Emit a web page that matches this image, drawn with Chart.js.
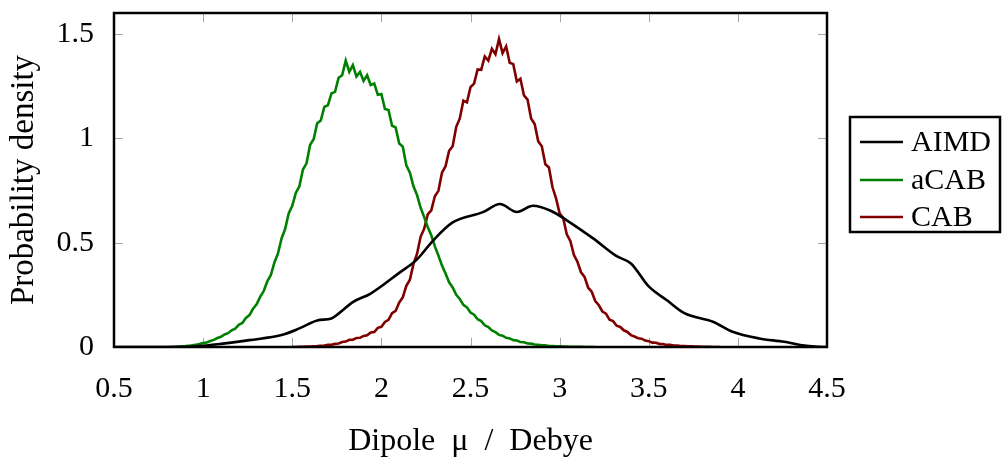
<!DOCTYPE html>
<html lang="en">
  <head>
    <meta charset="utf-8" />
    <title>Dipole distribution | AIMD vs aCAB vs CAB</title>
    <script src="https://cdn.jsdelivr.net/npm/chart.js@4.4.1/dist/chart.umd.min.js"></script>
    <style>
      html,
      body {
        margin: 0;
        padding: 0;
        background: #fff;
      }
    </style>
  </head>
  <body>
    <canvas id="dipoleChart" width="1003" height="461"></canvas>

    <script>
      // axis ticks
      const xTicks = [0.5, 1, 1.5, 2, 2.5, 3, 3.5, 4, 4.5];
      const xTickLabels = ["0.5", "1", "1.5", "2", "2.5", "3", "3.5", "4", "4.5"];
      const yTicks = [0, 0.5, 1, 1.5];
      const yTickLabels = ["0", "0.5", "1", "1.5"];

      const seriesNames = ["AIMD", "aCAB", "CAB"];

      // AIMD: smooth curve, read point by point
      const aimdX = [0.5, 0.85, 1.0, 1.1, 1.26, 1.44, 1.54, 1.64, 1.72, 1.76, 1.84, 1.94, 2.1, 2.2, 2.29, 2.4,
        2.57, 2.665, 2.76, 2.85, 2.95, 3.04, 3.19, 3.32, 3.4, 3.5, 3.6, 3.7, 3.86, 3.97, 4.12, 4.26, 4.35, 4.45, 4.5];
      const aimdY = [0, 0, 0.006, 0.015, 0.033, 0.057, 0.089, 0.127, 0.137, 0.16, 0.215, 0.256, 0.355, 0.42, 0.51, 0.597,
        0.646, 0.685, 0.647, 0.677, 0.653, 0.607, 0.519, 0.435, 0.4, 0.29, 0.225, 0.162, 0.121, 0.073, 0.041, 0.025, 0.01, 0.001, 0];

      // aCAB histogram, bins of 0.02 starting at 0.80
      const acabStart = 0.8;
      const acabStep = 0.02;
      const acabY = [
        0.000, 0.000, 0.001, 0.002, 0.003, 0.004, 0.006, 0.008, 0.011, 0.014,
        0.019, 0.022, 0.029, 0.034, 0.043, 0.049, 0.060, 0.066, 0.080, 0.088,
        0.106, 0.115, 0.139, 0.153, 0.183, 0.205, 0.240, 0.268, 0.315, 0.345,
        0.405, 0.448, 0.520, 0.565, 0.640, 0.676, 0.738, 0.770, 0.850, 0.880,
        0.968, 0.995, 1.072, 1.085, 1.150, 1.158, 1.215, 1.222, 1.290, 1.302,
        1.372, 1.318, 1.350, 1.296, 1.318, 1.275, 1.302, 1.255, 1.262, 1.208,
        1.212, 1.140, 1.135, 1.060, 1.052, 0.975, 0.960, 0.870, 0.835, 0.770,
        0.728, 0.668, 0.622, 0.575, 0.535, 0.482, 0.438, 0.390, 0.352, 0.310,
        0.285, 0.250, 0.230, 0.202, 0.190, 0.165, 0.155, 0.133, 0.124, 0.104,
        0.095, 0.079, 0.071, 0.058, 0.054, 0.044, 0.041, 0.033, 0.031, 0.024,
        0.023, 0.017, 0.016, 0.012, 0.011, 0.008, 0.008, 0.005, 0.005, 0.003,
        0.003, 0.002, 0.002, 0.001, 0.001, 0.001, 0.001, 0.000, 0.000, 0.000,
        0.000
      ];

      // CAB histogram, bins of 0.02 starting at 1.50
      const cabStart = 1.5;
      const cabStep = 0.02;
      const cabY = [
        0.000, 0.000, 0.001, 0.001, 0.002, 0.002, 0.003, 0.004, 0.006, 0.007,
        0.010, 0.011, 0.015, 0.017, 0.024, 0.026, 0.034, 0.035, 0.043, 0.044,
        0.053, 0.056, 0.070, 0.072, 0.092, 0.097, 0.120, 0.130, 0.162, 0.173,
        0.213, 0.238, 0.293, 0.322, 0.398, 0.446, 0.528, 0.566, 0.635, 0.655,
        0.722, 0.748, 0.835, 0.866, 0.940, 0.962, 1.055, 1.095, 1.180, 1.172,
        1.245, 1.262, 1.330, 1.328, 1.392, 1.372, 1.428, 1.402, 1.475, 1.408,
        1.440, 1.362, 1.355, 1.272, 1.285, 1.205, 1.185, 1.095, 1.068, 0.985,
        0.962, 0.875, 0.860, 0.765, 0.712, 0.640, 0.618, 0.540, 0.508, 0.442,
        0.408, 0.358, 0.336, 0.284, 0.265, 0.220, 0.200, 0.170, 0.160, 0.131,
        0.124, 0.102, 0.096, 0.080, 0.072, 0.057, 0.050, 0.042, 0.040, 0.031,
        0.028, 0.021, 0.020, 0.015, 0.014, 0.010, 0.010, 0.007, 0.007, 0.005,
        0.005, 0.003, 0.003, 0.002, 0.002, 0.001, 0.001, 0.001, 0.000, 0.000,
        0.000
      ];

      const seriesColors = ["#000000", "#008000", "#800000"];

      const FONT = "'Liberation Serif', 'Times New Roman', serif";

      function toPoints(xs, ys) {
        return ys.map((y, i) => ({ x: xs[i], y: y }));
      }
      function binPoints(start, step, ys) {
        return ys.map((y, i) => ({ x: +(start + i * step).toFixed(2), y: y }));
      }

      // pgfplots-style box: gray inward ticks on all four sides + black frame
      const framePlugin = {
        id: "frame",
        beforeDatasetsDraw(chart) {
          const { ctx, chartArea: a, scales } = chart;
          const len = 9;
          ctx.save();
          ctx.strokeStyle = "#a6a6a6";
          ctx.lineWidth = 1;
          ctx.beginPath();
          xTicks.forEach((v) => {
            const px = Math.round(scales.x.getPixelForValue(v)) + 0.5;
            ctx.moveTo(px, a.bottom);
            ctx.lineTo(px, a.bottom - len);
            ctx.moveTo(px, a.top);
            ctx.lineTo(px, a.top + len);
          });
          yTicks.forEach((v) => {
            const py = Math.round(scales.y.getPixelForValue(v)) + 0.5;
            ctx.moveTo(a.left, py);
            ctx.lineTo(a.left + len, py);
            ctx.moveTo(a.right, py);
            ctx.lineTo(a.right - len, py);
          });
          ctx.stroke();
          ctx.restore();
        },
        afterDatasetsDraw(chart) {
          const { ctx, chartArea: a } = chart;
          ctx.save();
          ctx.strokeStyle = "#000";
          ctx.lineWidth = 2.5;
          ctx.strokeRect(a.left, a.top, a.right - a.left, a.bottom - a.top);
          ctx.restore();
        },
        afterDraw(chart) {
          // boxed legend to the right of the axes
          const { ctx } = chart;
          const box = { left: 850, top: 117, right: 1000, bottom: 232 };
          const rows = [142, 180, 217];
          ctx.save();
          ctx.strokeStyle = "#000";
          ctx.lineWidth = 2.5;
          ctx.strokeRect(box.left, box.top, box.right - box.left, box.bottom - box.top);
          ctx.font = "30px " + FONT;
          ctx.textBaseline = "middle";
          ctx.fillStyle = "#000";
          chart.data.datasets.forEach((ds, i) => {
            ctx.strokeStyle = ds.borderColor;
            ctx.lineWidth = 2.5;
            ctx.beginPath();
            ctx.moveTo(860, rows[i]);
            ctx.lineTo(903, rows[i]);
            ctx.stroke();
            ctx.fillText(ds.label, 911, rows[i] + 1);
          });
          ctx.restore();
        }
      };

      new Chart(document.getElementById("dipoleChart"), {
        type: "line",
        data: {
          datasets: [
            {
              label: seriesNames[0],
              data: toPoints(aimdX, aimdY),
              borderColor: seriesColors[0],
              borderWidth: 2.6,
              pointRadius: 0,
              cubicInterpolationMode: "monotone"
            },
            {
              label: seriesNames[1],
              data: binPoints(acabStart, acabStep, acabY),
              borderColor: seriesColors[1],
              borderWidth: 2.6,
              pointRadius: 0,
              tension: 0
            },
            {
              label: seriesNames[2],
              data: binPoints(cabStart, cabStep, cabY),
              borderColor: seriesColors[2],
              borderWidth: 2.6,
              pointRadius: 0,
              tension: 0
            }
          ]
        },
        options: {
          responsive: false,
          animation: false,
          events: [],
          layout: {
            padding: { top: 13, right: 176, bottom: 0, left: 0 }
          },
          plugins: {
            legend: { display: false },
            tooltip: { enabled: false }
          },
          scales: {
            x: {
              type: "linear",
              min: 0.5,
              max: 4.5,
              grid: { display: false },
              border: { display: false },
              afterBuildTicks: (s) => {
                s.ticks = xTicks.map((v) => ({ value: v }));
              },
              afterFit: (s) => {
                s.height = 114;
                s.paddingLeft = 0;
                s.paddingRight = 0;
              },
              ticks: {
                padding: 16,
                color: "#000",
                maxRotation: 0,
                autoSkip: false,
                font: { family: FONT, size: 30 },
                callback: (v, i) => xTickLabels[i]
              },
              title: {
                display: true,
                text: "Dipole  μ  /  Debye",
                color: "#000",
                font: { family: FONT, size: 32 },
                padding: { top: 0, bottom: 0 }
              }
            },
            y: {
              min: 0,
              max: 1.6,
              grid: { display: false },
              border: { display: false },
              afterBuildTicks: (s) => {
                s.ticks = yTicks.map((v) => ({ value: v }));
              },
              afterFit: (s) => {
                s.width = 114;
                s.paddingTop = 0;
                s.paddingBottom = 0;
              },
              ticks: {
                padding: 12,
                color: "#000",
                autoSkip: false,
                font: { family: FONT, size: 30 },
                callback: (v, i) => yTickLabels[i]
              },
              title: {
                display: true,
                text: "Probability density",
                color: "#000",
                font: { family: FONT, size: 33 },
                padding: { top: 5, bottom: 0 }
              }
            }
          }
        },
        plugins: [framePlugin]
      });
    </script>
  </body>
</html>
